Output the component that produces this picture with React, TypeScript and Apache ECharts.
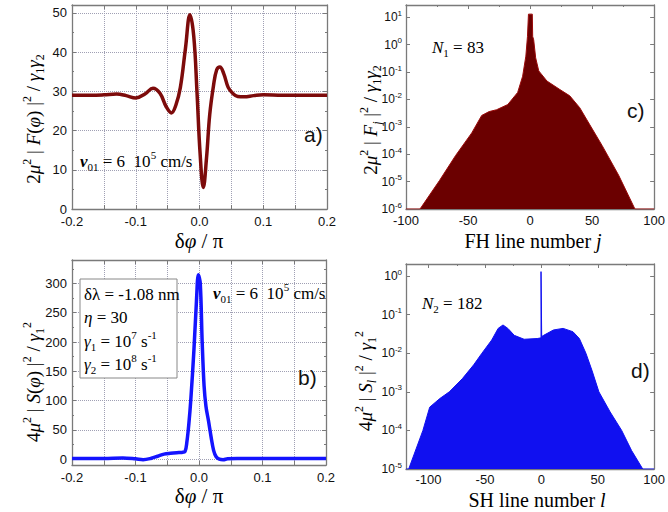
import React, { useEffect, useRef } from "react";
import * as echarts from "echarts";

// Panel a: FH intensity vs phase
const phiA = [-0.2, -0.17, -0.15, -0.13, -0.115, -0.1, -0.085, -0.073, -0.062, -0.052, -0.044, -0.037, -0.03, -0.022, -0.015, -0.009, -0.004, 0.001, 0.006, 0.011, 0.016, 0.022, 0.027, 0.032, 0.038, 0.045, 0.052, 0.06, 0.07, 0.085, 0.1, 0.13, 0.2];
const fA = [29, 29, 29.1, 29.3, 28.9, 28.3, 29.4, 30.8, 29.5, 26, 24.5, 26.5, 31, 41, 49.5, 44, 30, 14, 5.5, 13, 24, 31.5, 35.5, 36.2, 34.5, 31, 29.5, 28.7, 28.6, 28.9, 29.1, 29, 29];

// Panel b: SH intensity vs phase
const phiB = [-0.2, -0.15, -0.12, -0.1, -0.088, -0.075, -0.065, -0.055, -0.045, -0.035, -0.027, -0.022, -0.019, -0.016, -0.013, -0.008, -0.004, -0.001, 0.002, 0.005, 0.008, 0.011, 0.015, 0.019, 0.023, 0.027, 0.032, 0.038, 0.045, 0.06, 0.1, 0.2];
const sB = [1, 1, 2, 0.5, -1, 1.5, 5, 8.5, 10, 11, 11.5, 13, 30, 60, 100, 186, 270, 315, 300, 200, 125, 90, 65, 38, 15, 4, 0, -1, 0.5, 1, 1, 1];

// Panel c: FH line spectrum
const jC = [-100, -88.7, -73, -60, -47, -39, -33, -27, -18, -10, -6, -3.4, -2.1, -1.3, 1.8, 2.1, 2.9, 4.5, 7, 13.6, 24, 32, 40, 47.8, 58, 71.4, 84.5, 100];
const fC = [1e-6, 1e-6, 1.1e-5, 9e-5, 6e-4, 2.6e-3, 3.6e-3, 4.2e-3, 6.5e-3, 1.8e-2, 7e-2, 0.38, 2, 13, 13, 2, 1.5, 0.33, 0.11, 0.047, 0.023, 0.0135, 5e-3, 1.26e-3, 2.1e-4, 1.7e-5, 1e-6, 1e-6];

// Panel d: SH line spectrum
const lD = [-120, -117.6, -105, -99, -90, -81.6, -70, -60, -52.7, -44, -38.3, -34, -29.7, -24, -15.3, -3.7, -0.3, -0.3, 0.3, 0.3, 2, 10.7, 19.3, 28, 33.7, 39.5, 45, 51, 61, 71.2, 80, 89.9, 100];
const sD = [1e-5, 1e-5, 1e-4, 4e-4, 6.7e-4, 1e-3, 2.2e-3, 5e-3, 1e-2, 0.022, 0.044, 0.054, 0.044, 0.029, 0.023, 0.024, 0.025, 1.3, 1.3, 0.027, 0.029, 0.04, 0.044, 0.036, 0.024, 1e-2, 3.5e-3, 1e-3, 3e-4, 1e-4, 3e-5, 1e-5, 1e-5];

const xTicksPhi = [-0.2, -0.1, 0, 0.1, 0.2];

const SERIF = "'Liberation Serif', 'Times New Roman', serif";
const SANS = "'Liberation Sans', Arial, sans-serif";
const AXC = "#7a7a7a";

function rich(size: number) {
  const s = Math.round(size * 0.62);
  return {
    n: { fontFamily: SERIF, fontSize: size, lineHeight: size + 6, color: "#111" },
    i: { fontFamily: SERIF, fontSize: size, fontStyle: "italic", lineHeight: size + 6, color: "#111" },
    bi: { fontFamily: SERIF, fontSize: size, fontStyle: "italic", fontWeight: "bold", lineHeight: size + 6, color: "#111" },
    sup: { fontFamily: SERIF, fontSize: s, lineHeight: s + 1, verticalAlign: "top", color: "#111" },
    sub: { fontFamily: SERIF, fontSize: s, lineHeight: s + 1, verticalAlign: "bottom", color: "#111" },
    subi: { fontFamily: SERIF, fontSize: s, fontStyle: "italic", lineHeight: s + 1, verticalAlign: "bottom", color: "#111" },
  };
}

function txt(x: number, y: number, text: string, size: number, opts: any = {}) {
  return {
    type: "text",
    x,
    y,
    z: 100,
    rotation: opts.rotation || 0,
    style: {
      text,
      rich: rich(size),
      align: opts.align || "left",
      verticalAlign: "middle",
    },
  };
}

function label(x: number, y: number, text: string) {
  return {
    type: "text",
    x,
    y,
    z: 100,
    style: { text, fontFamily: SANS, fontSize: 21, fill: "#111", align: "left", verticalAlign: "middle" },
  };
}

const tickLabel = { color: "#111", fontSize: 13, fontFamily: SANS, margin: 6 };

function phiFmt(v: number) {
  const r = Math.round(v * 100);
  if (r % 10 !== 0) return "";
  const t = xTicksPhi.find((k) => Math.round(k * 100) === r);
  return t === undefined ? "" : (r / 100).toFixed(1);
}

function logFmt(v: number) {
  const l = Math.log10(v);
  const e = Math.round(l);
  if (Math.abs(l - e) > 0.01) return "";
  return "{b|10}{s|" + e + "}";
}
const logRich = {
  b: { fontFamily: SANS, fontSize: 12, color: "#111", lineHeight: 16 },
  s: { fontFamily: SANS, fontSize: 8, color: "#111", lineHeight: 9, verticalAlign: "top" },
};

function xPair(grid: number, base: any, grid2: boolean) {
  const common = {
    gridIndex: grid,
    axisLine: { onZero: false, lineStyle: { color: AXC, width: 1.3 } },
    axisTick: { inside: true, length: 4, lineStyle: { color: AXC } },
    minorTick: { show: true, splitNumber: 2, length: 2, lineStyle: { color: AXC } },
    ...base,
  };
  return [
    {
      ...common,
      position: "bottom",
      axisLabel: { ...tickLabel, ...(base.axisLabel || {}) },
      splitLine: grid2 ? { show: true, lineStyle: { type: "dotted", color: "#a0a0b4", width: 1 } } : { show: false },
    },
    { ...common, position: "top", axisLabel: { show: false }, splitLine: { show: false } },
  ];
}

function yPair(grid: number, base: any, grid2: boolean) {
  const common = {
    gridIndex: grid,
    axisLine: { onZero: false, lineStyle: { color: AXC, width: 1.3 } },
    axisTick: { inside: true, length: 4, lineStyle: { color: AXC } },
    ...base,
  };
  return [
    {
      ...common,
      position: "left",
      axisLabel: { ...tickLabel, margin: 5, ...(base.axisLabel || {}) },
      splitLine: grid2 ? { show: true, lineStyle: { type: "dotted", color: "#a0a0b4", width: 1 } } : { show: false },
    },
    { ...common, position: "right", axisLabel: { show: false }, splitLine: { show: false } },
  ];
}

export default function App() {
  const ref = useRef<HTMLDivElement>(null);
  useEffect(() => {
    if (!ref.current) return;
    const chart = echarts.init(ref.current, null, { renderer: "svg" });

    const xAxes = [
      ...xPair(0, { type: "value", min: -0.2, max: 0.2, interval: 0.05, minorTick: { show: false }, axisLabel: { formatter: phiFmt } }, true),
      ...xPair(1, { type: "value", min: -0.2, max: 0.2, interval: 0.05, minorTick: { show: false }, axisLabel: { formatter: phiFmt } }, true),
      ...xPair(2, { type: "value", min: -100, max: 100, interval: 50, axisLabel: { margin: 5 } }, false),
      ...xPair(3, { type: "value", min: -120, max: 100, splitNumber: 4, axisLabel: { margin: 4, formatter: (v: number) => (v % 50 === 0 ? String(v) : "") } }, false),
    ];
    const yAxes = [
      ...yPair(0, { type: "value", min: 0, max: 52, interval: 10, minorTick: { show: true, splitNumber: 2, length: 2, lineStyle: { color: AXC } }, axisLabel: { formatter: (v: number) => (v % 10 === 0 ? String(v) : "") } }, true),
      ...yPair(1, { type: "value", min: -10, max: 340, splitNumber: 7, minorTick: { show: true, splitNumber: 2, length: 2, lineStyle: { color: AXC } }, axisLabel: { formatter: (v: number) => (v % 50 === 0 ? String(v) : "") } }, true),
      ...yPair(2, { type: "log", logBase: 10, min: 1e-6, max: 28, axisLabel: { formatter: logFmt, rich: logRich, margin: 4 } }, false),
      ...yPair(3, { type: "log", logBase: 10, min: 1e-5, max: 2.05, axisLabel: { formatter: logFmt, rich: logRich, margin: 4 } }, false),
    ];

    const g = [
      // panel a
      txt(33, 119, "{n|2}{i|μ}{sup|2}{n| | }{i|F}{n|(}{i|φ}{n|) |}{sup|2}{n| / }{i|γ}{sub|1}{i|γ}{sub|2}", 19, { rotation: Math.PI / 2, align: "center" }),
      txt(199, 241, "{n|δ}{i|φ}{n| / π}", 21, { align: "center" }),
      label(304, 134, "a)"),
      txt(80, 161, "{bi|v}{sub|01}{n| = 6  10}{sup|5}{n| cm/s}", 17),
      // panel c
      txt(370, 120, "{n|2}{i|μ}{sup|2}{n| | }{i|F}{subi|j}{n| |}{sup|2}{n| / }{i|γ}{sub|1}{i|γ}{sub|2}", 19, { rotation: Math.PI / 2, align: "center" }),
      txt(533, 241, "{n|FH line number }{i|j}", 20, { align: "center" }),
      txt(432, 47, "{i|N}{sub|1}{n| = 83}", 17),
      label(627, 110, "c)"),
      // panel b
      txt(33, 382, "{n|4}{i|μ}{sup|2}{n| | }{i|S}{n|(}{i|φ}{n|) |}{sup|2}{n| / }{i|γ}{sub|1}{sup|2}", 19, { rotation: Math.PI / 2, align: "center" }),
      txt(199, 496, "{n|δ}{i|φ}{n| / π}", 21, { align: "center" }),
      {
        type: "rect",
        z: 99,
        shape: { x: 80, y: 279, width: 97, height: 99 },
        style: { fill: "#fff", stroke: "#888", lineWidth: 1 },
      },
      txt(84, 294, "{n|δλ = -1.08 nm}", 17),
      txt(84, 317, "{i|η}{n| = 30}", 17),
      txt(84, 341, "{i|γ}{sub|1}{n| = 10}{sup|7}{n| s}{sup|-1}", 17),
      txt(84, 364, "{i|γ}{sub|2}{n| = 10}{sup|8}{n| s}{sup|-1}", 17),
      txt(213, 293, "{bi|v}{sub|01}{n| = 6  10}{sup|5}{n| cm/s}", 17),
      label(298, 377, "b)"),
      // panel d
      txt(365, 381, "{n|4}{i|μ}{sup|2}{n| | }{i|S}{subi|l}{n| |}{sup|2}{n| / }{i|γ}{sub|1}{sup|2}", 19, { rotation: Math.PI / 2, align: "center" }),
      txt(537, 500, "{n|SH line number }{i|l}", 20, { align: "center" }),
      txt(422, 303, "{i|N}{sub|2}{n| = 182}", 17),
      label(631, 370, "d)"),
    ];

    chart.setOption({
      animation: false,
      backgroundColor: "#fff",
      grid: [
        { left: 72, top: 5, width: 255, height: 204 },
        { left: 72, top: 260, width: 254, height: 205 },
        { left: 406, top: 5, width: 253, height: 204 },
        { left: 406, top: 264, width: 254, height: 205 },
      ],
      xAxis: xAxes,
      yAxis: yAxes,
      graphic: g,
      series: [
        {
          type: "line",
          xAxisIndex: 0,
          yAxisIndex: 0,
          data: phiA.map((x, i) => [x, fA[i]]),
          smooth: 0.4,
          showSymbol: false,
          lineStyle: { color: "#7d0b0b", width: 3.5 },
        },
        {
          type: "line",
          xAxisIndex: 2,
          yAxisIndex: 2,
          data: phiB.map((x, i) => [x, sB[i]]),
          smooth: 0.35,
          showSymbol: false,
          lineStyle: { color: "#1414ff", width: 3.5 },
        },
        {
          type: "line",
          xAxisIndex: 4,
          yAxisIndex: 4,
          data: jC.map((x, i) => [x, fC[i]]),
          showSymbol: false,
          lineStyle: { color: "#9a0a0a", width: 1 },
          areaStyle: { color: "#6b0000", opacity: 1, origin: "start" },
        },
        {
          type: "line",
          xAxisIndex: 6,
          yAxisIndex: 6,
          data: lD.map((x, i) => [x, sD[i]]),
          showSymbol: false,
          lineStyle: { color: "#1010f0", width: 1 },
          areaStyle: { color: "#1010f0", opacity: 1, origin: "start" },
        },
      ],
    });
    return () => chart.dispose();
  }, []);
  return <div ref={ref} style={{ position: "absolute", left: 0, top: 0, width: 668, height: 512 }} />;
}
